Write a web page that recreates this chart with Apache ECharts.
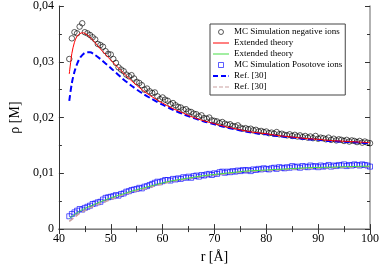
<!DOCTYPE html>
<html><head><meta charset="utf-8">
<script src="https://cdn.jsdelivr.net/npm/echarts@6/dist/echarts.min.js"></script>
<style>html,body{margin:0;padding:0;background:#fff}#c{width:382px;height:269px}</style>
</head><body><div id="c"></div>
<script>
// ---- data ----
const rSim = [42,42.5,43,43.5,44,44.5,45,45.5,46,46.5,47,47.5,48,48.5,49,49.5,50,50.5,51,51.5,52,52.5,53,53.5,54,54.5,55,55.5,56,56.5,57,57.5,58,58.5,59,59.5,60,60.5,61,61.5,62,62.5,63,63.5,64,64.5,65,65.5,66,66.5,67,67.5,68,68.5,69,69.5,70,70.5,71,71.5,72,72.5,73,73.5,74,74.5,75,75.5,76,76.5,77,77.5,78,78.5,79,79.5,80,80.5,81,81.5,82,82.5,83,83.5,84,84.5,85,85.5,86,86.5,87,87.5,88,88.5,89,89.5,90,90.5,91,91.5,92,92.5,93,93.5,94,94.5,95,95.5,96,96.5,97,97.5,98,98.5,99,99.5,100];
const mcNegative = [0.0305,0.0342,0.0353,0.0351,0.0363,0.0369,0.0353,0.0351,0.0348,0.0344,0.0340,0.0332,0.0330,0.0327,0.0319,0.0314,0.0313,0.0305,0.0298,0.0290,0.0286,0.0283,0.0277,0.0274,0.0276,0.0270,0.0264,0.0262,0.0258,0.0250,0.0252,0.0247,0.0244,0.0245,0.0238,0.0233,0.0236,0.0232,0.0230,0.0224,0.0226,0.0222,0.0219,0.0218,0.0214,0.0215,0.0211,0.0210,0.0207,0.0206,0.0202,0.0204,0.0199,0.0198,0.0200,0.0195,0.0194,0.0193,0.0190,0.0192,0.0189,0.0187,0.0188,0.0185,0.0184,0.0186,0.0182,0.0180,0.0181,0.0179,0.0180,0.0177,0.0178,0.0175,0.0176,0.0174,0.0175,0.0172,0.0173,0.0171,0.0174,0.0170,0.0171,0.0169,0.0168,0.0170,0.0167,0.0169,0.0166,0.0168,0.0165,0.0167,0.0164,0.0166,0.0163,0.0167,0.0162,0.0164,0.0163,0.0161,0.0164,0.0160,0.0162,0.0159,0.0161,0.0160,0.0158,0.0160,0.0157,0.0159,0.0158,0.0156,0.0158,0.0155,0.0157,0.0155,0.0154];
const mcPositive = [0.0023,0.0027,0.0030,0.0033,0.0036,0.0035,0.0038,0.0040,0.0042,0.0045,0.0046,0.0048,0.0049,0.0053,0.0056,0.0057,0.0058,0.0059,0.0061,0.0060,0.0063,0.0064,0.0067,0.0068,0.0070,0.0071,0.0072,0.0074,0.0073,0.0076,0.0077,0.0079,0.0081,0.0083,0.0085,0.0084,0.0086,0.0088,0.0088,0.0087,0.0090,0.0089,0.0091,0.0090,0.0093,0.0092,0.0094,0.0092,0.0095,0.0096,0.0094,0.0097,0.0096,0.0098,0.0099,0.0097,0.0100,0.0099,0.0102,0.0103,0.0101,0.0103,0.0102,0.0104,0.0103,0.0105,0.0104,0.0106,0.0105,0.0106,0.0104,0.0107,0.0106,0.0108,0.0107,0.0109,0.0108,0.0107,0.0109,0.0110,0.0108,0.0111,0.0110,0.0109,0.0111,0.0110,0.0113,0.0111,0.0112,0.0110,0.0113,0.0112,0.0111,0.0114,0.0112,0.0113,0.0111,0.0114,0.0112,0.0113,0.0115,0.0112,0.0114,0.0113,0.0115,0.0114,0.0116,0.0113,0.0115,0.0114,0.0116,0.0115,0.0114,0.0116,0.0115,0.0114,0.0112];

const rNegTheory = [42,42.5,43,43.5,44,44.5,45,46,47,48,49,50,52,54,56,58,60,62,64,66,68,70,72,74,76,78,80,82,84,86,88,90,92,94,96,98,100];
const extNegative = [0.0278,0.0315,0.0335,0.0346,0.0350,0.0352,0.0351,0.0344,0.0334,0.0323,0.0313,0.0303,0.0284,0.0266,0.0250,0.0237,0.0226,0.0216,0.0208,0.0200,0.0194,0.0189,0.0184,0.0180,0.0176,0.0173,0.0171,0.0168,0.0166,0.0164,0.0162,0.0161,0.0159,0.0158,0.0157,0.0156,0.0155];
const rRefNeg = [42,42.5,43,43.5,44,44.5,45,45.5,46,47,48,49,50,52,54,56,58,60,62,64,66,68,70,72,74,76,78,80,82,84,86,88,90,92,94,96,98,100];
const refNegative = [0.0230,0.0262,0.0282,0.0296,0.0306,0.0312,0.0316,0.0317,0.0317,0.0312,0.0305,0.0297,0.0289,0.0272,0.0257,0.0244,0.0233,0.0223,0.0214,0.0206,0.0199,0.0193,0.0188,0.0183,0.0179,0.0175,0.0172,0.0170,0.0167,0.0165,0.0163,0.0161,0.0160,0.0158,0.0157,0.0156,0.0155,0.0154];

const rPosTheory = [42,43,44,45,46,47,48,50,52,54,56,58,60,62,64,66,68,70,72,74,76,78,80,84,88,92,96,100];
const extPositive = [0.0019,0.0026,0.0032,0.0037,0.0041,0.0045,0.0049,0.0056,0.0062,0.0068,0.0073,0.0078,0.0083,0.0087,0.0090,0.0093,0.0096,0.0098,0.0100,0.0102,0.0104,0.0105,0.0106,0.0108,0.0110,0.0111,0.0112,0.0113];
const refPositive = [0.0014,0.0021,0.0028,0.0033,0.0038,0.0042,0.0046,0.0053,0.0060,0.0066,0.0071,0.0076,0.0081,0.0086,0.0089,0.0092,0.0095,0.0097,0.0099,0.0101,0.0103,0.0104,0.0105,0.0107,0.0109,0.0110,0.0111,0.0112];

const xTicks = [40,50,60,70,80,90,100];
const yTickLabels = ['0','0,01','0,02','0,03','0,04'];
const legendNames = ['MC Simulation negative ions','Extended theory','Extended theory ','MC Simulation Posotove ions','Ref. [30]','Ref. [30] '];

// ---- chart ----
const zip = (xs, ys) => xs.map((x, i) => [x, ys[i]]);
const FONT = 'Liberation Serif';
const SOLID = 'path://M0,0h16v1h-16z';
const DASH_B = 'path://M0,0h5v2h-5z M8,0h5v2h-5z M15.5,0h0.5v2h-0.5z';
const DASH_P = 'path://M0,0h4v1.2h-4z M6,0h4v1.2h-4z M12,0h4v1.2h-4z';
const SQUARE = 'path://M0,0h10v10h-10z';
const chart = echarts.init(document.getElementById('c'), null, {renderer: 'canvas'});
const axisCommon = {
  min: xTicks[0], max: xTicks[xTicks.length - 1], interval: 10, type: 'value',
  splitLine: {show: false}
};
chart.setOption({
  animation: false,
  backgroundColor: '#fff',
  grid: {left: 43, right: 10, top: 6, bottom: 33, containLabel: false},
  legend: {
    orient: 'vertical', left: 210, top: 24,
    data: [
      {name: legendNames[0], icon: 'circle', itemStyle: {color: 'rgba(0,0,0,0)', borderColor: '#000', borderWidth: 0.8}},
      {name: legendNames[1], icon: SOLID, itemStyle: {color: '#ff0000', borderWidth: 0}},
      {name: legendNames[2], icon: SOLID, itemStyle: {color: '#44dd44', borderWidth: 0}},
      {name: legendNames[3], icon: SQUARE, itemStyle: {color: 'rgba(0,0,0,0)', borderColor: '#0000ff', borderWidth: 0.8}},
      {name: legendNames[4], icon: DASH_B, itemStyle: {color: '#0000ff', borderWidth: 0}},
      {name: legendNames[5], icon: DASH_P, itemStyle: {color: '#c9a0a0', borderWidth: 0}}
    ],
    itemWidth: 16, itemHeight: 5, itemGap: 1,
    padding: [3, 3, 3, 3],
    borderColor: '#444', borderWidth: 1, backgroundColor: '#fff',
    textStyle: {fontFamily: FONT, fontSize: 9, color: '#000', lineHeight: 10},
    selectedMode: false
  },
  xAxis: [
    Object.assign({}, axisCommon, {
      position: 'bottom',
      name: 'r [Å]', nameLocation: 'middle', nameGap: 13,
      nameTextStyle: {fontFamily: FONT, fontSize: 14, color: '#000'},
      axisLine: {lineStyle: {color: '#333', width: 1}},
      axisTick: {inside: true, length: 5, lineStyle: {color: '#333'}},
      minorTick: {show: true, splitNumber: 2, length: 3, lineStyle: {color: '#333'}},
      axisLabel: {fontFamily: FONT, fontSize: 12, color: '#000', margin: 4}
    }),
    Object.assign({}, axisCommon, {
      position: 'top',
      axisLine: {lineStyle: {color: '#999', width: 1.5}},
      axisTick: {inside: true, length: 5, lineStyle: {color: '#333'}},
      minorTick: {show: true, splitNumber: 2, length: 3, lineStyle: {color: '#333'}},
      axisLabel: {show: false}
    })
  ],
  yAxis: [
    {
      type: 'value', min: 0, max: 0.04, interval: 0.01, position: 'left',
      splitLine: {show: false},
      name: 'ρ [M]', nameLocation: 'middle', nameGap: 23, nameRotate: 90,
      nameTextStyle: {fontFamily: FONT, fontSize: 14, color: '#000'},
      axisLine: {show: true, lineStyle: {color: '#333', width: 1}},
      axisTick: {show: true, inside: true, length: 5, lineStyle: {color: '#333'}},
      minorTick: {show: true, splitNumber: 2, length: 3, lineStyle: {color: '#333'}},
      axisLabel: {fontFamily: FONT, fontSize: 12, color: '#000', margin: 5,
        formatter: (v) => yTickLabels[Math.round(v / 0.01)]}
    },
    {
      type: 'value', min: 0, max: 0.04, interval: 0.01, position: 'right',
      splitLine: {show: false},
      axisLine: {show: true, lineStyle: {color: '#999', width: 1.5}},
      axisTick: {show: true, inside: true, length: 5, lineStyle: {color: '#333'}},
      minorTick: {show: true, splitNumber: 2, length: 3, lineStyle: {color: '#333'}},
      axisLabel: {show: false}
    }
  ],
  series: [
    {name: legendNames[0], type: 'scatter', symbol: 'circle', symbolSize: 5.5,
     data: zip(rSim, mcNegative),
     itemStyle: {color: 'rgba(0,0,0,0)', borderColor: '#000', borderWidth: 0.8}},
    {name: legendNames[3], type: 'scatter', symbol: 'rect', symbolSize: 5,
     data: zip(rSim, mcPositive),
     itemStyle: {color: 'rgba(0,0,0,0)', borderColor: '#0000ff', borderWidth: 0.8}},
    {name: legendNames[5], type: 'line', symbol: 'none', smooth: 0.3,
     data: zip(rPosTheory, refPositive),
     lineStyle: {color: '#c9a0a0', width: 1.5, type: [5, 3]}, itemStyle: {color: '#c9a0a0'}},
    {name: legendNames[2], type: 'line', symbol: 'none', smooth: 0.3,
     data: zip(rPosTheory, extPositive),
     lineStyle: {color: '#44dd44', width: 1}, itemStyle: {color: '#44dd44'}},
    {name: legendNames[4], type: 'line', symbol: 'none', smooth: 0.3,
     data: zip(rRefNeg, refNegative),
     lineStyle: {color: '#0000ff', width: 2, type: [6, 3]}, itemStyle: {color: '#0000ff'}},
    {name: legendNames[1], type: 'line', symbol: 'none', smooth: 0.3,
     data: zip(rNegTheory, extNegative),
     lineStyle: {color: '#ff0000', width: 1}, itemStyle: {color: '#ff0000'}}
  ]
});
</script></body></html>
